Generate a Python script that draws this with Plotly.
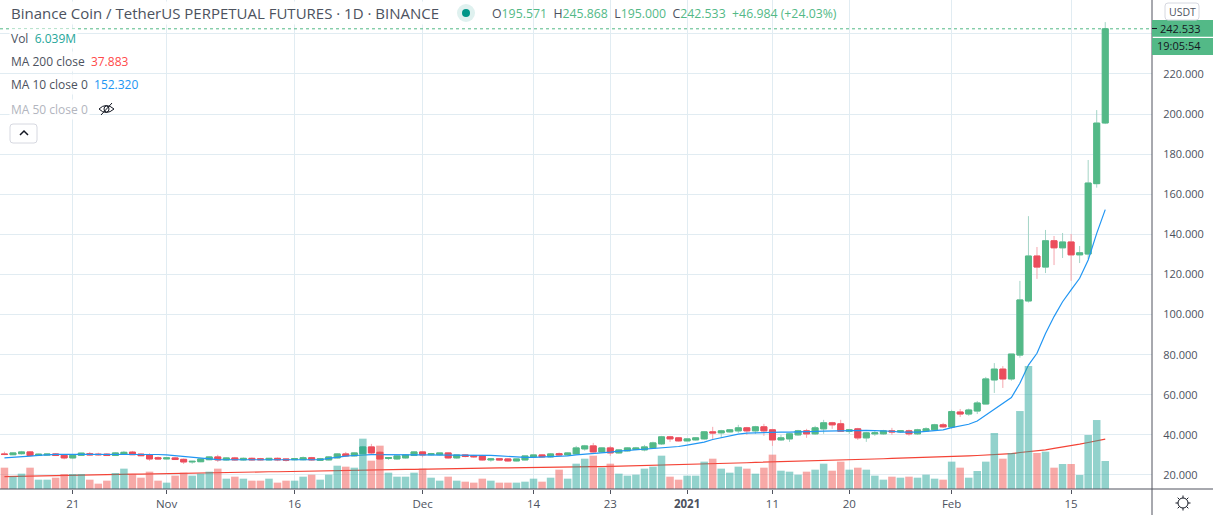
import math

import pandas as pd
import plotly.graph_objects as go

# daily candles (Oct 13 2020 - Feb 19 2021)
dates = pd.date_range('2020-10-13', '2021-02-19', freq='D')

opens = [30.5, 30.1, 30.6, 31.5, 29.7, 29.9, 30.5, 29.8, 28.5, 29.8,
         30.6, 30.4, 30.4, 29.7, 30.3, 31.4, 30.4, 30.0, 28.6, 28.0,
         28.5, 27.8, 26.5, 26.6, 27.6, 29.0, 27.5, 28.5, 27.5, 28.3,
         28.1, 27.5, 28.3, 28.0, 27.6, 27.6, 28.6, 27.3, 27.5, 28.5,
         30.5, 29.5, 30.6, 34.0, 31.3, 28.2, 28.0, 28.5, 29.7, 31.5,
         30.1, 30.1, 31.0, 28.5, 30.0, 29.6, 29.5, 27.5, 28.1, 28.0,
         27.0, 27.5, 29.0, 30.0, 29.0, 30.6, 30.0, 30.5, 33.0, 34.5,
         31.5, 33.5, 31.0, 32.0, 32.7, 32.5, 33.5, 35.5, 39.0, 38.5,
         37.0, 37.5, 38.0, 41.5, 41.0, 41.5, 42.0, 43.5, 42.0, 44.0,
         42.5, 37.5, 38.0, 40.0, 42.0, 40.5, 43.0, 46.0, 45.5, 41.8,
         43.0, 38.5, 40.5, 40.5, 42.0, 41.5, 42.0, 40.5, 42.0, 42.5,
         45.0, 43.9, 51.4, 50.4, 51.9, 55.4, 67.4, 72.8, 67.9, 79.8,
         106.8, 129.2, 123.7, 136.8, 133.3, 136.2, 129.8, 130.2, 165.3, 195.571]
highs = [31.6, 31.2, 32.0, 31.9, 30.6, 30.6, 30.9, 30.1, 30.0, 31.0,
         31.5, 31.1, 30.8, 31.4, 32.0, 32.0, 30.8, 30.8, 29.2, 28.9,
         29.0, 28.2, 27.0, 28.0, 29.2, 30.1, 28.8, 29.0, 28.7, 28.7,
         28.5, 28.5, 28.7, 28.2, 28.3, 29.2, 29.0, 28.5, 29.3, 30.8,
         31.5, 31.3, 34.5, 35.5, 31.8, 28.9, 30.0, 30.4, 31.8, 31.9,
         31.0, 31.0, 31.2, 30.0, 30.3, 30.0, 30.0, 28.4, 28.4, 28.3,
         28.1, 29.6, 30.2, 30.4, 30.9, 31.2, 31.2, 34.5, 35.0, 36.0,
         33.7, 34.5, 32.7, 33.8, 34.0, 35.0, 36.6, 39.5, 39.5, 38.9,
         38.3, 38.9, 41.9, 44.0, 42.5, 42.9, 45.0, 44.0, 44.5, 45.5,
         43.0, 40.0, 40.9, 42.5, 43.0, 44.5, 47.5, 46.5, 47.5, 43.0,
         43.5, 41.5, 42.0, 42.5, 43.5, 42.4, 42.6, 43.0, 43.8, 45.5,
         46.0, 52.5, 52.9, 53.1, 56.9, 68.9, 75.8, 74.3, 80.3, 116.8,
         149.1, 133.7, 142.2, 139.2, 140.7, 140.2, 134.2, 177.1, 202.0, 245.868]
lows = [29.9, 29.9, 30.2, 29.5, 29.4, 29.6, 29.8, 27.8, 27.9, 29.6,
        29.6, 29.7, 29.6, 29.5, 30.1, 30.0, 29.4, 27.1, 27.8, 27.7,
        27.6, 25.5, 25.6, 26.4, 27.4, 26.5, 27.2, 27.1, 27.2, 27.1,
        27.2, 27.3, 26.9, 26.7, 27.2, 27.3, 27.1, 27.0, 27.3, 28.2,
        29.1, 29.2, 30.4, 30.2, 27.8, 27.5, 27.5, 28.2, 29.5, 28.8,
        29.7, 29.8, 28.2, 28.1, 28.8, 28.5, 27.2, 26.6, 27.2, 26.7,
        26.8, 27.3, 28.6, 28.7, 28.7, 29.6, 29.6, 30.1, 32.1, 31.2,
        31.1, 29.5, 30.7, 31.7, 32.4, 31.8, 33.1, 35.0, 36.5, 36.7,
        36.7, 37.2, 37.6, 38.0, 38.5, 41.2, 41.0, 40.0, 40.5, 39.5,
        34.5, 37.0, 36.5, 39.6, 38.5, 40.0, 40.5, 43.0, 41.5, 40.5,
        37.5, 36.5, 39.5, 40.0, 40.0, 41.0, 39.6, 40.0, 41.6, 42.0,
        43.5, 43.0, 48.9, 49.5, 50.4, 55.4, 60.9, 63.4, 67.0, 78.5,
        106.0, 117.8, 120.7, 124.7, 128.2, 116.8, 125.7, 127.7, 163.3, 195.0]
closes = [30.2, 31.0, 31.5, 29.7, 30.4, 30.4, 29.7, 28.5, 29.8, 30.9,
          30.0, 30.1, 29.7, 31.0, 31.3, 30.1, 29.6, 28.0, 28.0, 28.5,
          27.7, 26.5, 26.8, 28.0, 29.0, 27.5, 28.5, 27.5, 28.3, 27.5,
          27.6, 28.3, 27.5, 27.4, 28.1, 28.6, 27.5, 28.1, 29.0, 30.5,
          29.5, 31.0, 34.0, 31.0, 28.0, 28.7, 29.5, 30.0, 31.5, 30.0,
          30.6, 31.0, 28.5, 30.0, 29.2, 29.1, 27.5, 28.0, 27.5, 27.0,
          28.0, 29.5, 30.0, 29.0, 30.5, 30.0, 31.0, 33.5, 34.5, 31.5,
          33.5, 31.0, 32.5, 33.5, 33.5, 34.0, 36.0, 39.0, 38.0, 37.0,
          38.0, 38.5, 41.5, 41.0, 42.0, 42.5, 43.5, 42.0, 44.0, 42.0,
          37.5, 38.5, 40.5, 42.0, 40.5, 43.5, 46.0, 45.0, 41.8, 42.5,
          38.5, 41.0, 41.0, 42.0, 41.5, 42.0, 40.5, 42.5, 43.0, 45.0,
          44.0, 51.6, 50.4, 52.4, 55.9, 67.9, 72.8, 67.9, 80.3, 107.3,
          129.2, 123.7, 136.8, 133.3, 136.2, 129.8, 130.8, 165.6, 195.5, 242.533]

volumes = [4.60, 2.73, 3.31, 4.60, 2.01, 2.01, 2.44, 3.24, 3.24, 3.24,
           2.01, 1.15, 1.80, 3.45, 4.39, 3.24, 2.44, 3.74, 1.80, 1.37,
           2.88, 3.52, 2.88, 3.31, 3.74, 4.39, 2.23, 2.66, 2.23, 1.80,
           1.80, 2.23, 1.37, 1.80, 1.80, 2.66, 3.09, 2.01, 3.09, 5.03,
           4.82, 4.60, 10.86, 6.11, 9.35, 3.52, 2.66, 2.66, 3.52, 4.39,
           2.44, 1.80, 2.66, 1.80, 1.58, 1.37, 2.23, 1.80, 1.37, 1.37,
           1.37, 1.58, 2.23, 1.58, 2.44, 4.17, 2.23, 5.46, 6.54, 7.19,
           4.60, 5.46, 3.31, 2.88, 3.09, 4.39, 4.82, 7.19, 2.66, 2.01,
           2.88, 2.88, 5.90, 6.54, 4.39, 3.52, 4.82, 4.39, 3.31, 4.60,
           7.41, 3.95, 3.74, 3.09, 3.74, 4.17, 5.46, 3.95, 5.90, 4.17,
           4.60, 4.17, 2.88, 2.01, 2.66, 2.44, 2.66, 2.44, 3.09, 2.23,
           2.01, 5.90, 4.60, 2.44, 3.88, 5.90, 12.08, 6.54, 7.77, 16.82,
           26.53, 7.77, 8.05, 4.60, 5.39, 5.39, 3.02, 11.65, 14.88, 6.039]

ma10 = [28.5, 28.7, 29.0, 29.4, 29.8, 30.2, 30.3, 30.3, 30.3, 30.4,
        30.4, 30.4, 30.4, 30.4, 30.4, 30.4, 30.4, 30.4, 30.2, 30.0,
        29.6, 29.2, 28.7, 28.2, 27.8, 27.7, 27.6, 27.6, 27.6, 27.6,
        27.6, 27.6, 27.7, 27.7, 27.7, 27.7, 27.7, 27.6, 28.3, 29.0,
        29.4, 29.7, 30.0, 30.1, 30.1, 30.1, 30.1, 30.1, 30.1, 30.1,
        30.1, 30.1, 30.1, 30.1, 30.1, 30.1, 30.0, 29.8, 29.5, 29.2,
        28.9, 28.8, 28.8, 28.9, 29.0, 29.2, 29.5, 30.0, 30.3, 30.6,
        31.0, 31.4, 31.9, 32.2, 32.5, 32.8, 33.1, 33.4, 33.7, 34.2,
        34.9, 35.6, 36.4, 37.7, 38.6, 39.6, 40.4, 40.9, 41.1, 41.3,
        41.4, 41.4, 41.4, 41.4, 41.5, 41.7, 41.9, 42.0, 42.0, 42.1,
        42.2, 42.2, 42.1, 42.0, 41.8, 41.4, 41.3, 41.4, 41.7, 42.0,
        42.5, 43.6, 44.3, 45.3, 46.9, 49.8, 52.9, 55.7, 58.6, 65.7,
        74.8, 80.7, 90.6, 99.0, 106.4, 112.3, 118.1, 127.2, 140.5, 152.32]
ma200 = [19.2, 19.3, 19.4, 19.5, 19.5, 19.6, 19.7, 19.8, 19.8, 19.9,
         20.0, 20.1, 20.1, 20.2, 20.3, 20.4, 20.4, 20.5, 20.6, 20.7,
         20.7, 20.8, 20.9, 21.0, 21.0, 21.1, 21.2, 21.3, 21.3, 21.4,
         21.5, 21.6, 21.6, 21.7, 21.8, 21.9, 21.9, 22.1, 22.2, 22.3,
         22.3, 22.4, 22.4, 22.5, 22.6, 22.7, 22.7, 22.8, 22.8, 22.9,
         23.0, 23.0, 23.1, 23.2, 23.2, 23.3, 23.3, 23.4, 23.5, 23.5,
         23.6, 23.6, 23.7, 23.8, 23.8, 23.9, 24.0, 24.0, 24.1, 24.2,
         24.2, 24.3, 24.4, 24.4, 24.5, 24.6, 24.7, 24.9, 25.0, 25.1,
         25.3, 25.4, 25.5, 25.6, 25.8, 25.9, 26.0, 26.1, 26.3, 26.4,
         26.5, 26.6, 26.8, 26.9, 27.0, 27.1, 27.3, 27.4, 27.5, 27.6,
         27.8, 27.9, 28.0, 28.1, 28.3, 28.4, 28.5, 28.7, 28.8, 28.9,
         29.1, 29.2, 29.3, 29.5, 29.7, 29.9, 30.0, 30.3, 30.6, 31.2,
         31.6, 32.0, 32.5, 33.3, 33.9, 34.5, 35.4, 36.2, 37.0, 37.883]

price_ticks = [20, 40, 60, 80, 100, 120, 140, 160, 180, 200, 220, 240]
# the 240 label sits under the last price tag
price_labels = ['20.000', '40.000', '60.000', '80.000', '100.000', '120.000', '140.000',
                '160.000', '180.000', '200.000', '220.000', '']
date_ticks = ['2020-10-21', '2020-11-01', '2020-11-16', '2020-12-01', '2020-12-14', '2020-12-23',
              '2021-01-01', '2021-01-11', '2021-01-20', '2021-02-01', '2021-02-15']
date_labels = ['21', 'Nov', '16', 'Dec', '14', '23', '<b>2021</b>', '11', '20', 'Feb', '15']

UP = '#53b987'
DOWN = '#eb4d5c'
GRID = '#e1ecf2'
AXIS = '#50535e'
TEXT = '#4c525e'
FONT = 'Open Sans'
WIDTH, HEIGHT = 1213, 515
PLOT_W, PLOT_H = 1152, 489


# page pixels -> paper coordinates
def xp(x):
    return x / PLOT_W


def yp(y):
    return 1 - y / PLOT_H


def label(x, y, text, color=TEXT, size=12, anchor='left', bg=None):
    fig.add_annotation(xref='paper', yref='paper', x=xp(x), y=yp(y), text=text, showarrow=False,
                       xanchor=anchor, yanchor='middle', align='left', borderpad=1, bgcolor=bg,
                       font=dict(family=FONT, size=size, color=color))


def box(x0, y0, x1, y1, **kw):
    fig.add_shape(type='rect', xref='paper', yref='paper', x0=xp(x0), y0=yp(y0), x1=xp(x1), y1=yp(y1), **kw)


def line(x0, y0, x1, y1, color=AXIS, width=1):
    fig.add_shape(type='line', xref='paper', yref='paper', x0=xp(x0), y0=yp(y0), x1=xp(x1), y1=yp(y1),
                  line=dict(color=color, width=width))


def rounded(x0, y0, x1, y1, r, **kw):
    p = (f'M {xp(x0 + r)} {yp(y0)} L {xp(x1 - r)} {yp(y0)} Q {xp(x1)} {yp(y0)} {xp(x1)} {yp(y0 + r)} '
         f'L {xp(x1)} {yp(y1 - r)} Q {xp(x1)} {yp(y1)} {xp(x1 - r)} {yp(y1)} '
         f'L {xp(x0 + r)} {yp(y1)} Q {xp(x0)} {yp(y1)} {xp(x0)} {yp(y1 - r)} '
         f'L {xp(x0)} {yp(y0 + r)} Q {xp(x0)} {yp(y0)} {xp(x0 + r)} {yp(y0)} Z')
    fig.add_shape(type='path', xref='paper', yref='paper', path=p, **kw)


fig = go.Figure()

# wicks are paler than the bodies, so they get their own trace
fig.add_trace(go.Candlestick(
    x=dates, open=opens, high=highs, low=lows, close=closes,
    increasing=dict(line=dict(color='#a3d4c6', width=1), fillcolor='#a3d4c6'),
    decreasing=dict(line=dict(color='#f5a6ae', width=1), fillcolor='#f5a6ae'),
))
fig.add_trace(go.Candlestick(
    x=dates, open=opens, close=closes,
    high=[max(o, c) for o, c in zip(opens, closes)],
    low=[min(o, c) for o, c in zip(opens, closes)],
    increasing=dict(line=dict(color=UP, width=1), fillcolor=UP),
    decreasing=dict(line=dict(color=DOWN, width=1), fillcolor=DOWN),
))
fig.add_trace(go.Scatter(x=dates, y=ma10, mode='lines', line=dict(color='#2196f3', width=1.2)))
fig.add_trace(go.Scatter(x=dates, y=ma200, mode='lines', line=dict(color='#f44336', width=1.2)))

# volume sits on its own axis so it is drawn over the price traces
vol_colors = ['rgba(38,166,154,0.5)' if c >= o else 'rgba(239,83,80,0.5)' for o, c in zip(opens, closes)]
fig.add_trace(go.Bar(x=dates, y=volumes, yaxis='y2', marker=dict(color=vol_colors, line=dict(width=0))))

fig.update_layout(
    width=WIDTH, height=HEIGHT,
    margin=dict(l=0, r=WIDTH - PLOT_W, t=0, b=HEIGHT - PLOT_H),
    paper_bgcolor='white', plot_bgcolor='white',
    showlegend=False, hovermode=False,
    boxgap=0.3, boxgroupgap=0, bargap=0.12,
    xaxis=dict(
        type='date', range=['2020-10-12 11:30', '2021-02-24 11:30'],
        rangeslider=dict(visible=False),
        tickvals=date_ticks, ticktext=date_labels, tickangle=0,
        ticks='outside', ticklen=4, tickcolor=AXIS,
        tickfont=dict(family=FONT, size=11.5, color=TEXT),
        showgrid=True, gridcolor=GRID, gridwidth=1, zeroline=False, showline=False,
    ),
    yaxis=dict(
        side='right', range=[13.0, 256.9],
        tickvals=price_ticks, ticktext=price_labels,
        ticks='outside', ticklen=8, tickcolor='rgba(0,0,0,0)',
        tickfont=dict(family=FONT, size=11, color=TEXT),
        showgrid=True, gridcolor=GRID, gridwidth=1, zeroline=False, showline=False,
    ),
    yaxis2=dict(overlaying='y', range=[0, 105.5], visible=False),
)

# last price dotted line
fig.add_hline(y=closes[-1], line=dict(color=UP, width=1, dash='dot'))

# axis frame
line(1152, 0, 1152, 515)
line(0, 489, 1213, 489)

# price tags on the right
box(1152, 20, 1213, 36.7, fillcolor=UP, line_width=0)
box(1152, 38, 1213, 55, fillcolor=UP, line_width=0)
line(1152, 28.5, 1157, 28.5, color='#131722')
label(1180, 28.5, '242.533', color='#131722', size=11, anchor='center')
label(1179, 46, '19:05:54', color='#131722', size=11, anchor='center')
rounded(1165, 3, 1199, 20, 3, fillcolor='white', line=dict(color='#d6d8e0', width=1))
label(1182, 12, 'USDT', size=10.5, anchor='center')

# header
label(9, 13, 'Binance Coin / TetherUS PERPETUAL FUTURES · 1D · BINANCE', size=15,
      bg='rgba(255,255,255,0.9)')
fig.add_shape(type='circle', xref='paper', yref='paper', x0=xp(457), y0=yp(4), x1=xp(475), y1=yp(22),
              fillcolor='#dff1ef', line_width=0)
fig.add_shape(type='circle', xref='paper', yref='paper', x0=xp(462), y0=yp(9), x1=xp(470), y1=yp(17),
              fillcolor='#009688', line_width=0)
g = f'<span style="color:{UP}">'
label(490, 13, f'O{g}195.571</span>  H{g}245.868</span>  L{g}195.000</span>  C{g}242.533</span>  '
               f'{g}+46.984 (+24.03%)</span>', size=12.3)

# indicator legend
white = 'rgba(255,255,255,0.85)'
label(9, 38, f'Vol  <span style="color:#26a69a">6.039M</span>', bg=white)
label(9, 61, f'MA 200 close  <span style="color:#ff4a4a">37.883</span>', bg=white)
label(9, 85, f'MA 10 close 0  <span style="color:#2196f3">152.320</span>', bg=white)
label(9, 109, 'MA 50 close 0', color='#b2b5be', bg=white)

# crossed out eye
fig.add_shape(type='path', xref='paper', yref='paper', line=dict(color='#131722', width=1),
              path=(f'M {xp(99)} {yp(109)} Q {xp(106)} {yp(102)} {xp(114)} {yp(109)} '
                    f'Q {xp(106)} {yp(116)} {xp(99)} {yp(109)} Z'))
fig.add_shape(type='circle', xref='paper', yref='paper', x0=xp(104), y0=yp(106), x1=xp(109), y1=yp(112),
              line=dict(color='#131722', width=1))
line(101, 115, 112, 103, color='#131722')

# collapse button
rounded(10, 124, 37, 143, 3, fillcolor='white', line=dict(color='#d6d8e0', width=1))
fig.add_shape(type='path', xref='paper', yref='paper', line=dict(color='#131722', width=1.5),
              path=f'M {xp(20)} {yp(135)} L {xp(24)} {yp(131)} L {xp(28)} {yp(135)}')

# settings icon
fig.add_shape(type='circle', xref='paper', yref='paper', x0=xp(1178), y0=yp(498), x1=xp(1188), y1=yp(508),
              line=dict(color='#131722', width=1))
for k in range(8):
    a = k * math.pi / 4
    line(1183 + 5 * math.cos(a), 503 + 5 * math.sin(a), 1183 + 7.5 * math.cos(a), 503 + 7.5 * math.sin(a),
         color='#131722')

fig.write_html('out.html', config={'displayModeBar': False}, post_script="document.body.style.margin='0';")
